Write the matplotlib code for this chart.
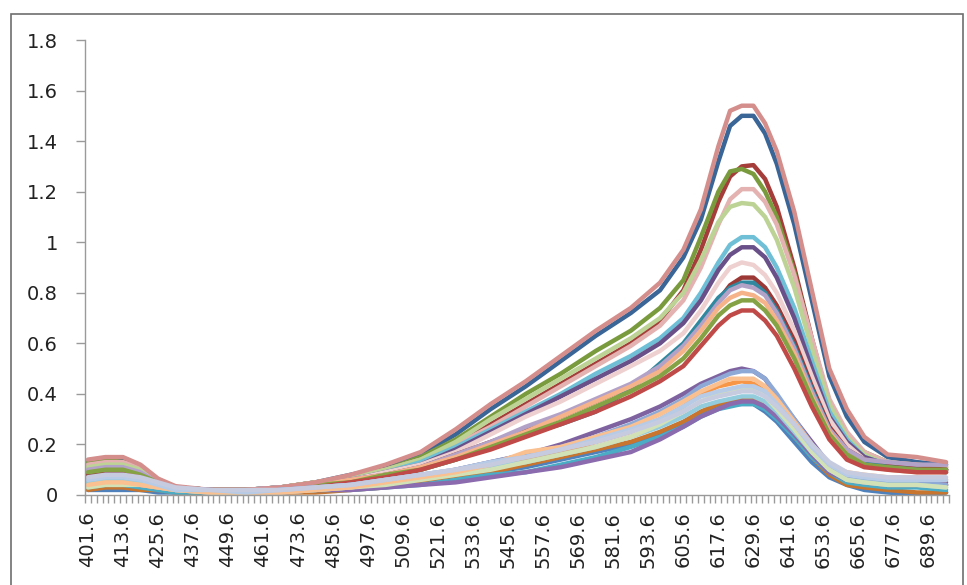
import numpy as np
import matplotlib
matplotlib.use('Agg')
import matplotlib.pyplot as plt
from matplotlib.patches import Rectangle
from matplotlib.ticker import FixedLocator, FuncFormatter

wave = [401.6, 407.6, 413.6, 419.6, 425.6, 431.6, 443.6, 455.6, 467.6, 479.6,
        491.6, 503.6, 515.6, 527.6, 539.6, 551.6, 563.6, 575.6, 587.6, 597.6,
        605.6, 611.6, 617.6, 621.6, 625.6, 629.6, 633.6, 637.6, 643.6, 649.6,
        655.6, 661.6, 667.6, 675.6, 685.6, 695.6]

# upper group of spectra
s_blue = [0.12, 0.14, 0.14, 0.11, 0.06, 0.03, 0.02, 0.02, 0.03, 0.05, 0.08, 0.11, 0.16, 0.24, 0.34, 0.43, 0.53, 0.63,
          0.72, 0.81, 0.94, 1.09, 1.32, 1.46, 1.50, 1.50, 1.43, 1.31, 1.07, 0.77, 0.47, 0.31, 0.21, 0.15, 0.13, 0.12]
s_red = [0.12, 0.13, 0.13, 0.10, 0.06, 0.03, 0.02, 0.02, 0.03, 0.05, 0.07, 0.10, 0.14, 0.20, 0.28, 0.36, 0.44, 0.52,
         0.60, 0.69, 0.81, 0.97, 1.16, 1.26, 1.30, 1.305, 1.25, 1.14, 0.90, 0.62, 0.36, 0.22, 0.15, 0.12, 0.11, 0.10]
s_dgreen = [0.13, 0.14, 0.13, 0.11, 0.06, 0.03, 0.02, 0.02, 0.03, 0.05, 0.07, 0.10, 0.15, 0.22, 0.31, 0.40, 0.48, 0.57,
            0.65, 0.74, 0.85, 1.02, 1.20, 1.28, 1.29, 1.27, 1.20, 1.10, 0.88, 0.61, 0.37, 0.24, 0.17, 0.13, 0.12, 0.11]
s_lpink = [0.12, 0.13, 0.13, 0.11, 0.06, 0.03, 0.02, 0.02, 0.03, 0.05, 0.07, 0.10, 0.14, 0.20, 0.27, 0.35, 0.43, 0.51,
           0.59, 0.67, 0.77, 0.90, 1.07, 1.17, 1.21, 1.21, 1.16, 1.07, 0.87, 0.62, 0.38, 0.25, 0.17, 0.13, 0.12, 0.11]
s_lgreen = [0.11, 0.12, 0.12, 0.10, 0.06, 0.03, 0.02, 0.02, 0.03, 0.05, 0.07, 0.10, 0.14, 0.21, 0.30, 0.38, 0.46, 0.54,
            0.62, 0.70, 0.80, 0.93, 1.08, 1.14, 1.155, 1.15, 1.10, 1.01, 0.82, 0.58, 0.36, 0.23, 0.16, 0.12, 0.11, 0.10]
s_aqua = [0.09, 0.10, 0.10, 0.09, 0.05, 0.03, 0.02, 0.02, 0.03, 0.04, 0.06, 0.09, 0.13, 0.19, 0.26, 0.33, 0.40, 0.48,
          0.55, 0.62, 0.70, 0.80, 0.92, 0.99, 1.02, 1.02, 0.98, 0.90, 0.74, 0.53, 0.33, 0.22, 0.15, 0.12, 0.11, 0.10]
s_purple = [0.08, 0.09, 0.09, 0.08, 0.05, 0.03, 0.02, 0.02, 0.03, 0.04, 0.06, 0.09, 0.12, 0.18, 0.25, 0.32, 0.39, 0.46,
            0.53, 0.60, 0.68, 0.77, 0.89, 0.95, 0.98, 0.98, 0.94, 0.86, 0.70, 0.50, 0.31, 0.21, 0.15, 0.12, 0.11, 0.10]
s_ppink = [0.09, 0.10, 0.10, 0.09, 0.05, 0.03, 0.02, 0.02, 0.03, 0.04, 0.06, 0.09, 0.12, 0.17, 0.24, 0.31, 0.37, 0.44,
           0.51, 0.57, 0.64, 0.73, 0.84, 0.90, 0.92, 0.91, 0.87, 0.80, 0.65, 0.47, 0.30, 0.20, 0.14, 0.12, 0.11, 0.10]
s_dred = [0.08, 0.09, 0.09, 0.08, 0.05, 0.03, 0.02, 0.02, 0.02, 0.04, 0.06, 0.08, 0.11, 0.16, 0.21, 0.26, 0.31, 0.37,
          0.43, 0.50, 0.58, 0.67, 0.77, 0.83, 0.86, 0.86, 0.82, 0.75, 0.61, 0.43, 0.27, 0.18, 0.14, 0.12, 0.11, 0.10]
s_teal = [0.07, 0.08, 0.08, 0.07, 0.05, 0.03, 0.02, 0.02, 0.02, 0.03, 0.05, 0.07, 0.10, 0.14, 0.19, 0.24, 0.28, 0.33,
          0.42, 0.52, 0.60, 0.69, 0.78, 0.82, 0.84, 0.84, 0.80, 0.73, 0.59, 0.42, 0.26, 0.17, 0.13, 0.11, 0.10, 0.09]
s_lav = [0.10, 0.11, 0.11, 0.09, 0.05, 0.03, 0.02, 0.02, 0.03, 0.04, 0.06, 0.08, 0.11, 0.16, 0.21, 0.27, 0.32, 0.38,
         0.44, 0.51, 0.59, 0.67, 0.76, 0.81, 0.83, 0.82, 0.79, 0.72, 0.58, 0.41, 0.26, 0.18, 0.14, 0.13, 0.12, 0.12]
s_peach = [0.06, 0.07, 0.07, 0.06, 0.04, 0.02, 0.02, 0.02, 0.02, 0.04, 0.06, 0.08, 0.11, 0.15, 0.20, 0.25, 0.31, 0.37,
           0.43, 0.49, 0.57, 0.65, 0.74, 0.78, 0.80, 0.79, 0.76, 0.69, 0.56, 0.39, 0.25, 0.16, 0.12, 0.10, 0.09, 0.09]
s_green = [0.09, 0.10, 0.10, 0.08, 0.05, 0.03, 0.02, 0.02, 0.02, 0.04, 0.05, 0.08, 0.10, 0.14, 0.19, 0.24, 0.29, 0.35,
           0.41, 0.47, 0.54, 0.62, 0.71, 0.75, 0.77, 0.77, 0.73, 0.67, 0.54, 0.38, 0.24, 0.16, 0.12, 0.11, 0.10, 0.10]
s_red2 = [0.07, 0.08, 0.08, 0.07, 0.04, 0.02, 0.02, 0.02, 0.02, 0.03, 0.05, 0.07, 0.10, 0.14, 0.18, 0.23, 0.28, 0.33,
          0.39, 0.45, 0.51, 0.59, 0.67, 0.71, 0.73, 0.73, 0.69, 0.63, 0.50, 0.35, 0.22, 0.14, 0.11, 0.10, 0.09, 0.09]
s_rose = [0.14, 0.15, 0.15, 0.12, 0.065, 0.035, 0.02, 0.02, 0.03, 0.05, 0.08, 0.12, 0.17, 0.26, 0.36, 0.45, 0.55, 0.65,
          0.74, 0.84, 0.97, 1.13, 1.38, 1.52, 1.54, 1.54, 1.47, 1.36, 1.12, 0.81, 0.50, 0.34, 0.23, 0.16, 0.15, 0.13]

# lower group of spectra
l_blue = [0.02, 0.02, 0.02, 0.02, 0.01, 0.01, 0.01, 0.01, 0.01, 0.02, 0.03, 0.04, 0.05, 0.07, 0.09, 0.11, 0.14, 0.17,
          0.20, 0.24, 0.28, 0.32, 0.35, 0.36, 0.36, 0.36, 0.33, 0.29, 0.21, 0.13, 0.07, 0.04, 0.02, 0.01, 0.00, 0.01]
l_brown = [0.02, 0.03, 0.03, 0.02, 0.02, 0.01, 0.01, 0.01, 0.01, 0.01, 0.02, 0.03, 0.05, 0.07, 0.09, 0.12, 0.15, 0.18,
           0.21, 0.25, 0.29, 0.33, 0.36, 0.37, 0.38, 0.38, 0.35, 0.31, 0.23, 0.15, 0.08, 0.04, 0.03, 0.02, 0.01, 0.01]
l_purple = [0.06, 0.07, 0.07, 0.06, 0.04, 0.02, 0.02, 0.01, 0.02, 0.03, 0.04, 0.05, 0.07, 0.10, 0.13, 0.16, 0.20, 0.25,
            0.30, 0.35, 0.40, 0.44, 0.47, 0.49, 0.50, 0.49, 0.46, 0.39, 0.30, 0.21, 0.12, 0.08, 0.06, 0.05, 0.05, 0.05]
l_aqua = [0.03, 0.04, 0.04, 0.03, 0.02, 0.01, 0.01, 0.01, 0.01, 0.02, 0.02, 0.03, 0.04, 0.06, 0.08, 0.09, 0.12, 0.15,
          0.19, 0.23, 0.27, 0.31, 0.34, 0.35, 0.36, 0.36, 0.34, 0.30, 0.23, 0.15, 0.09, 0.05, 0.04, 0.03, 0.03, 0.02]
l_orange = [0.04, 0.05, 0.05, 0.04, 0.03, 0.02, 0.01, 0.01, 0.01, 0.02, 0.03, 0.05, 0.06, 0.08, 0.11, 0.14, 0.17, 0.21,
            0.25, 0.30, 0.35, 0.40, 0.43, 0.44, 0.45, 0.44, 0.41, 0.36, 0.27, 0.18, 0.10, 0.06, 0.05, 0.04, 0.04, 0.04]
l_purple2 = [0.04, 0.05, 0.05, 0.04, 0.03, 0.02, 0.01, 0.01, 0.01, 0.02, 0.02, 0.03, 0.04, 0.05, 0.07, 0.09, 0.11, 0.14,
             0.17, 0.22, 0.27, 0.31, 0.34, 0.36, 0.37, 0.37, 0.35, 0.31, 0.24, 0.16, 0.09, 0.06, 0.05, 0.04, 0.04, 0.04]
l_mblue = [0.05, 0.06, 0.06, 0.05, 0.03, 0.02, 0.01, 0.01, 0.02, 0.03, 0.04, 0.06, 0.08, 0.10, 0.13, 0.16, 0.19, 0.23,
           0.28, 0.33, 0.38, 0.43, 0.46, 0.48, 0.49, 0.49, 0.46, 0.40, 0.30, 0.20, 0.12, 0.08, 0.06, 0.05, 0.05, 0.04]
l_laqua = [0.05, 0.06, 0.06, 0.05, 0.04, 0.02, 0.01, 0.01, 0.02, 0.02, 0.03, 0.05, 0.07, 0.09, 0.11, 0.13, 0.16, 0.19,
           0.23, 0.27, 0.31, 0.35, 0.37, 0.38, 0.39, 0.39, 0.37, 0.33, 0.25, 0.17, 0.10, 0.06, 0.05, 0.04, 0.04, 0.03]
l_lgreen = [0.03, 0.04, 0.04, 0.04, 0.03, 0.02, 0.01, 0.01, 0.01, 0.02, 0.03, 0.04, 0.06, 0.08, 0.10, 0.13, 0.16, 0.19,
            0.23, 0.28, 0.33, 0.37, 0.40, 0.41, 0.42, 0.42, 0.39, 0.34, 0.26, 0.17, 0.10, 0.06, 0.05, 0.04, 0.04, 0.03]
l_peach = [0.04, 0.05, 0.05, 0.04, 0.03, 0.02, 0.01, 0.01, 0.01, 0.02, 0.03, 0.05, 0.07, 0.09, 0.12, 0.17, 0.19, 0.23,
           0.27, 0.32, 0.37, 0.41, 0.44, 0.46, 0.46, 0.46, 0.43, 0.38, 0.29, 0.20, 0.12, 0.09, 0.08, 0.07, 0.07, 0.06]
l_lblue = [0.06, 0.07, 0.07, 0.06, 0.04, 0.02, 0.02, 0.01, 0.02, 0.03, 0.04, 0.06, 0.08, 0.10, 0.13, 0.15, 0.18, 0.22,
           0.26, 0.30, 0.35, 0.39, 0.41, 0.42, 0.43, 0.43, 0.41, 0.36, 0.28, 0.19, 0.12, 0.08, 0.07, 0.06, 0.06, 0.06]
l_grey = [0.07, 0.08, 0.08, 0.07, 0.05, 0.03, 0.02, 0.02, 0.02, 0.03, 0.04, 0.06, 0.08, 0.10, 0.12, 0.15, 0.18, 0.21,
          0.25, 0.29, 0.33, 0.37, 0.39, 0.40, 0.41, 0.41, 0.39, 0.35, 0.28, 0.20, 0.13, 0.09, 0.08, 0.07, 0.07, 0.07]

series = [
    (s_blue, '#3A6597'), (s_red, '#A53D3A'), (s_dgreen, '#7A9A3E'), (s_lpink, '#E3B2B1'),
    (s_lgreen, '#BCD395'), (s_aqua, '#6FBFD6'), (s_purple, '#6A5088'), (s_ppink, '#EDD0CF'),
    (s_dred, '#9C3835'), (s_teal, '#2F889F'), (s_lav, '#B3A2C7'), (s_peach, '#F6B38A'),
    (s_green, '#85A344'), (s_red2, '#BF4A47'), (s_rose, '#D48E8C'),
    (l_blue, '#4F81BD'), (l_brown, '#C8752F'), (l_purple, '#7F63A1'), (l_aqua, '#4BACC6'),
    (l_orange, '#F79646'), (l_purple2, '#8B6BAE'), (l_mblue, '#8EA9D6'), (l_laqua, '#93CDDD'),
    (l_lgreen, '#D3E2B6'), (l_peach, '#FAC090'), (l_lblue, '#B7CBE6'), (l_grey, '#C6CBE0'),
]

labels = np.arange(401.6, 690, 12.0)

fig = plt.figure(figsize=(9.67, 5.85), dpi=100)
ax = fig.add_axes([85/967, 90/585, 864/967, 455/585])

for ys, c in series:
    ax.plot(wave, ys, color=c, lw=3.2, solid_joinstyle='round', solid_capstyle='round')

ax.set_xlim(400.6, 696.6)
ax.set_ylim(0, 1.8)
ax.set_yticks(np.arange(0, 1.81, 0.2))
ax.yaxis.set_major_formatter(FuncFormatter(lambda v, p: '%g' % round(v, 1)))
ax.set_xticks(labels)
ax.set_xticklabels(['%.1f' % v for v in labels], rotation=90)
ax.xaxis.set_minor_locator(FixedLocator(np.arange(400.6, 697, 2.0)))

for s in ['top', 'right']:
    ax.spines[s].set_visible(False)
for s in ['left', 'bottom']:
    ax.spines[s].set_color('#9a9a9a')
    ax.spines[s].set_linewidth(1.0)

ax.tick_params(axis='y', length=6.5, width=1, color='#9a9a9a', pad=13,
               labelsize=14, labelcolor='#222222')
ax.tick_params(axis='x', which='major', length=0, pad=12, labelsize=14, labelcolor='#222222')
ax.tick_params(axis='x', which='minor', length=5.5, width=1, color='#9a9a9a')

# chart area border
fig.patches.append(Rectangle((11/967, -0.01), 952/967, (585-14)/585 + 0.01,
                             transform=fig.transFigure, fill=False,
                             edgecolor='#6e6e6e', lw=1.2))

fig.savefig('out.png', dpi=100)
